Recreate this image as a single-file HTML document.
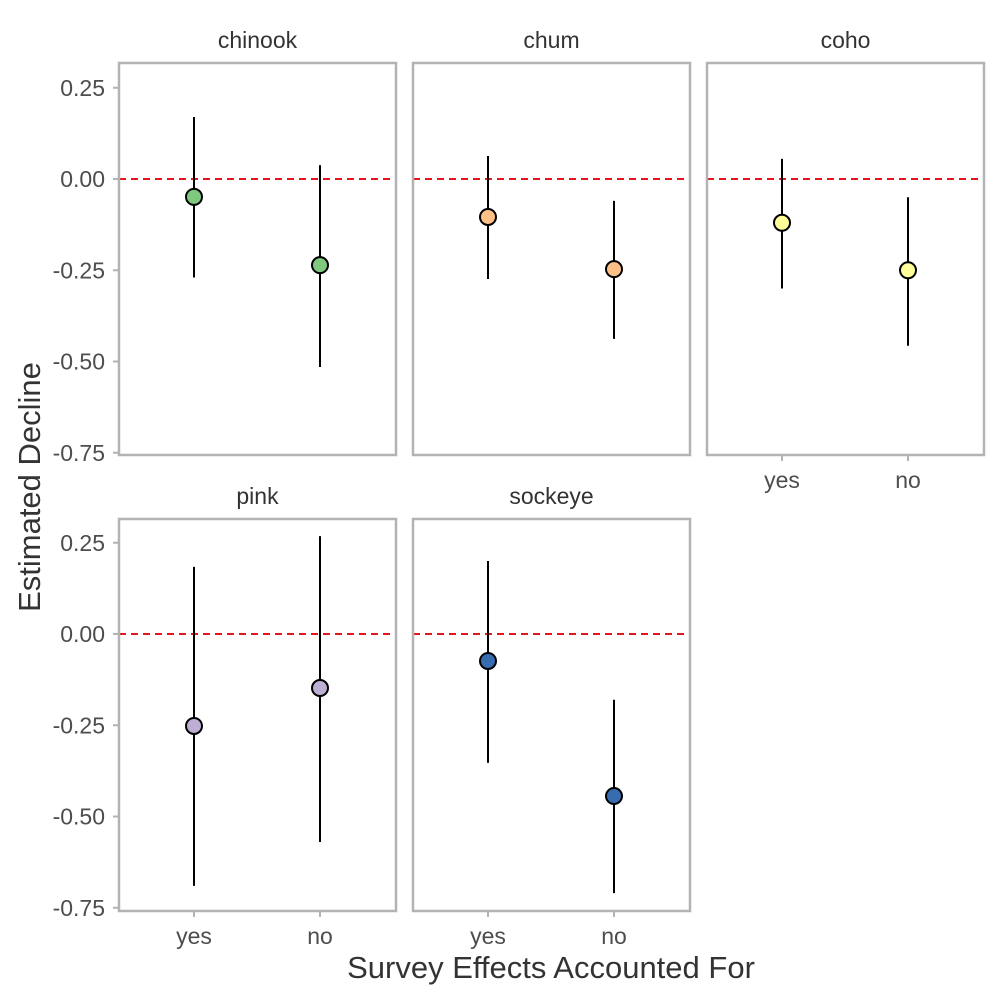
<!DOCTYPE html>
<html><head><meta charset="utf-8"><style>
html,body{margin:0;padding:0;background:#fff;}
text{font-family:"Liberation Sans",sans-serif;}
</style></head><body>
<svg id="c" width="1000" height="1000" xmlns="http://www.w3.org/2000/svg"></svg>
<script>
const species = ["chinook","chum","coho","pink","sockeye"];
const groups = ["yes","no"];
const estimates = [[-0.049,-0.236],[-0.104,-0.247],[-0.12,-0.25],[-0.252,-0.148],[-0.074,-0.444]];
const lowers = [[-0.27,-0.515],[-0.274,-0.438],[-0.30,-0.457],[-0.69,-0.57],[-0.353,-0.71]];
const uppers = [[0.17,0.038],[0.063,-0.06],[0.055,-0.05],[0.184,0.268],[0.2,-0.18]];
const colors = ["#7fc97f","#fdc086","#ffff99","#beaed4","#386cb0"];
const yTicks = [0.25,0,-0.25,-0.5,-0.75];
const yTickLabels = ["0.25","0.00","-0.25","-0.50","-0.75"];

const svg = document.getElementById('c');
const NS = "http://www.w3.org/2000/svg";
function mk(tag, attrs, parent){const e=document.createElementNS(NS,tag);for(const k in attrs)e.setAttribute(k,attrs[k]);(parent||svg).appendChild(e);return e;}
const panelX=[119,413,707], panelW=277, rowTop=[63,519], panelH=392, zeroY=[179,634];
function yScale(v,row){return zeroY[row]-v*365;}
function xScale(i,px){return px+75+i*126;}

species.forEach((sp,s)=>{
  const row=Math.floor(s/3), col=s%3, px=panelX[col], top=rowTop[row];
  const g=mk('g',{});
  
  
  const st=mk('text',{x:px+panelW/2,y:top-15,'text-anchor':'middle','font-size':23,fill:'#333'},g);
  st.textContent=sp;
  
  
  const zl=mk('line',{x1:px,x2:px+panelW,y1:yScale(0,row),y2:yScale(0,row),stroke:'#e8141c','stroke-width':2,'stroke-dasharray':'7,5'},g);
  
  
  groups.forEach((gr,i)=>{
    const x=xScale(i,px);
    const l=mk('line',{x1:x,x2:x,y1:yScale(uppers[s][i],row),y2:yScale(lowers[s][i],row),stroke:'#000','stroke-width':2},g);
    
    
    const c=mk('circle',{cx:x,cy:yScale(estimates[s][i],row),r:8,fill:colors[s],stroke:'#000','stroke-width':2},g);
    
    
  });
  const b=mk('rect',{x:px,y:top,width:panelW,height:panelH,fill:'none',stroke:'#b3b3b3','stroke-width':2.5},g);
  
  
  if(col===0){
    yTicks.forEach((t,k)=>{
      const y=yScale(t,row);
      const tk=mk('line',{x1:px-6,x2:px,y1:y,y2:y,stroke:'#b3b3b3','stroke-width':2},g);
      
      
      const tl=mk('text',{x:px-14,y:y+8,'text-anchor':'end','font-size':23,fill:'#4d4d4d'},g);
      tl.textContent=yTickLabels[k];
      
      
    });
  }
  if(row===1||s===2){
    groups.forEach((gr,i)=>{
      const x=xScale(i,px), y=top+panelH;
      const tk=mk('line',{x1:x,x2:x,y1:y,y2:y+6,stroke:'#b3b3b3','stroke-width':2},g);
      
      
      const tl=mk('text',{x:x,y:y+33,'text-anchor':'middle','font-size':23,fill:'#4d4d4d'},g);
      tl.textContent=gr;
      
      
    });
  }
});
const xt=mk('text',{x:551,y:978,'text-anchor':'middle','font-size':31,fill:'#333'});
xt.textContent='Survey Effects Accounted For';


const yt=mk('text',{x:0,y:0,'text-anchor':'middle','font-size':31,fill:'#333',transform:'translate(40,487) rotate(-90)'});
yt.textContent='Estimated Decline';


</script>
</body></html>
